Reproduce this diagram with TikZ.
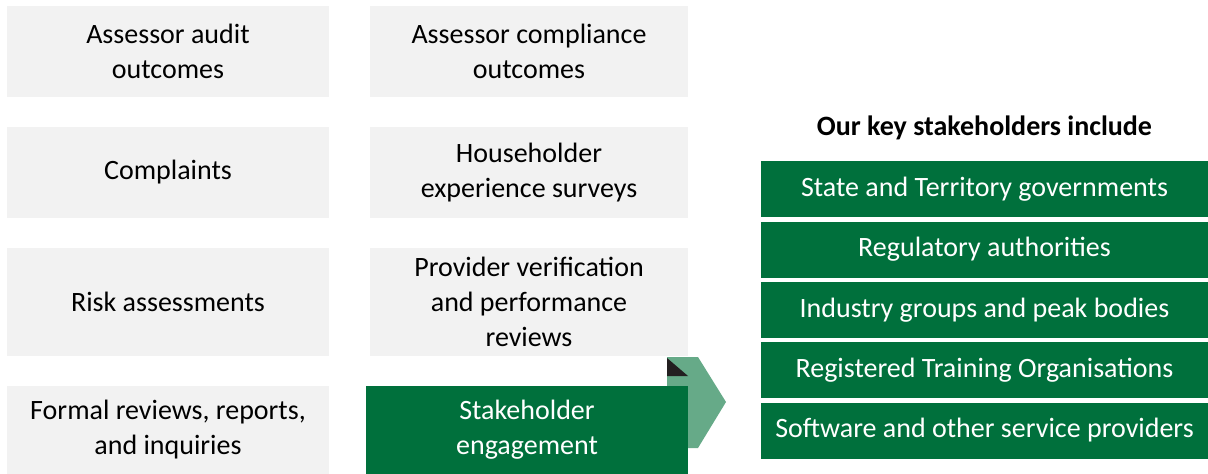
\documentclass[tikz,border=0pt]{standalone}
\usepackage{fontspec}
\setmainfont{Carlito}
\definecolor{boxgray}{RGB}{242,242,242}
\definecolor{dgreen}{RGB}{0,112,60}
\definecolor{lgreen}{RGB}{102,170,136}
\definecolor{darktri}{RGB}{35,31,32}
\tikzset{
  boxtext/.style={font=\fontsize{28}{35}\selectfont, align=center, inner sep=0pt, text=black},
  graybox/.style={boxtext, fill=boxgray},
  greenbox/.style={boxtext, fill=dgreen, text=white},
  stakebox/.style={greenbox, minimum width=447pt, minimum height=56pt},
  colA/.style={minimum width=322pt},
  colB/.style={minimum width=318pt},
}
\begin{document}
\begin{tikzpicture}[x=1pt,y=-1pt]
\useasboundingbox (0,0) rectangle (1208,474);
% left column
\node[graybox,colA,minimum height=91pt] (a1) at (168,51.5) {Assessor audit\\outcomes};
\node[graybox,colA,minimum height=91pt] (a2) at (168,172.5) {Complaints};
\node[graybox,colA,minimum height=108pt] (a3) at (168,302) {Risk assessments};
\node[graybox,colA,minimum height=88pt] (a4) at (168,430) {Formal reviews, reports,\\and inquiries};
% second column
\node[graybox,colB,minimum height=91pt] (b1) at (529,51.5) {Assessor compliance\\outcomes};
\node[graybox,colB,minimum height=91pt] (b2) at (529,172.5) {Householder\\experience surveys};
\node[graybox,colB,minimum height=108pt] (b3) at (529,302) {Provider verification\\and performance\\reviews};
% chevron
\fill[lgreen] (667,357) -- (698,357) -- (726,402) -- (698,448) -- (667,448) -- cycle;
\fill[darktri] (667,358) -- (667,376) -- (688,376) -- cycle;
\node[greenbox,minimum width=322pt,minimum height=88pt] (b4) at (527,430) {Stakeholder\\engagement};
% right column
\node[boxtext,font=\fontsize{28}{35}\selectfont\bfseries] (head) at (984.5,128) {Our key stakeholders include};
\node[stakebox] (s1) at (984.5,189) {State and Territory governments};
\node[stakebox] (s2) at (984.5,249.5) {Regulatory authorities};
\node[stakebox] (s3) at (984.5,310) {Industry groups and peak bodies};
\node[stakebox] (s4) at (984.5,370) {Registered Training Organisations};
\node[stakebox] (s5) at (984.5,430.5) {Software and other service providers};
\end{tikzpicture}
\end{document}
